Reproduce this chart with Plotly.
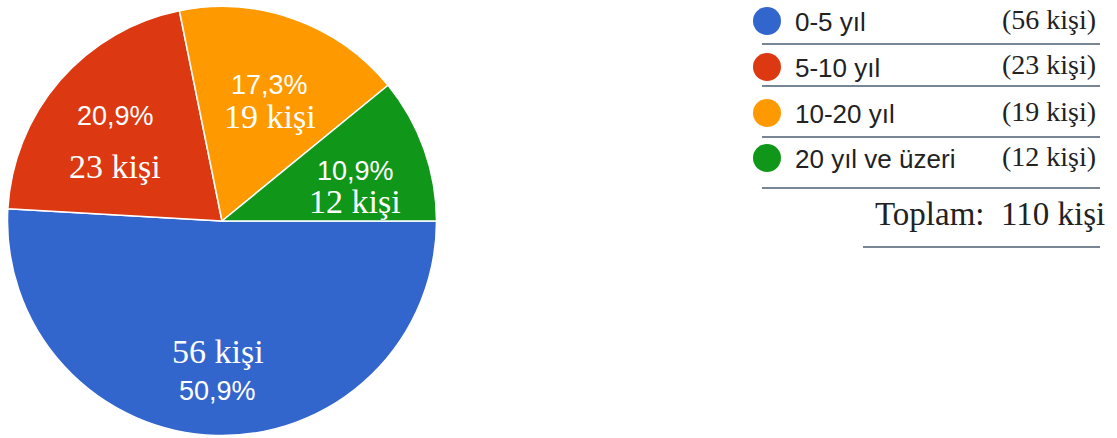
import math
import plotly.graph_objects as go

categories = ["0-5 yıl", "5-10 yıl", "10-20 yıl", "20 yıl ve üzeri"]
counts = [56, 23, 19, 12]
colors = ["#3366cc", "#dc3912", "#ff9900", "#109618"]
unit = "kişi"
total_label = "Toplam:"

W, H = 1117, 438
total = sum(counts)
pcts = [f"{c / total * 100:.1f}".replace(".", ",") + "%" for c in counts]

SERIF = "Liberation Serif, Times New Roman, serif"
SANS = "Liberation Sans, Arial, sans-serif"

# pie geometry (pixels)
CX, CY, R = 222, 221, 214.5
START_DEG = 0.0  # 3 o'clock, going clockwise
LABEL_BIAS_Y = 13  # labels in the upper half sit a little lower

fig = go.Figure()
fig.add_trace(go.Pie(
    labels=categories,
    values=counts,
    sort=False,
    direction="clockwise",
    rotation=90,
    marker=dict(colors=colors, line=dict(color="white", width=1.5)),
    textinfo="none",
    hoverinfo="label+value+percent",
    showlegend=False,
    domain=dict(x=[(CX - R) / W, (CX + R) / W], y=[1 - (CY + R) / H, 1 - (CY - R) / H]),
))


def px(x):
    return x / W


def py(y):
    return 1 - y / H


shapes = []
annotations = []

# slice labels placed at each slice's mid-angle
cum = 0
for i, c in enumerate(counts):
    mid = START_DEG + (cum + c / 2) / total * 360
    cum += c
    frac = 0.70 if c / total > 0.5 else 0.66
    lx = CX + frac * R * math.cos(math.radians(mid))
    ly = CY + frac * R * math.sin(math.radians(mid))
    if ly < CY:
        ly += LABEL_BIAS_Y
    kisi = dict(text=f"{c} {unit}", font=dict(family=SERIF, size=34, color="white"))
    pct = dict(text=pcts[i], font=dict(family=SANS, size=27, color="white"))
    lines = [kisi, pct] if i == 0 else [pct, kisi]
    gap = 40 if i == 0 else (50 if i == 1 else 31)
    for j, ln in enumerate(lines):
        yy = ly + (j - 0.5) * gap
        annotations.append(dict(xref="paper", yref="paper", x=px(lx), y=py(yy),
                                text=ln["text"], font=ln["font"], showarrow=False,
                                xanchor="center", yanchor="middle"))

# custom legend
row_y = [21, 67, 113, 158]
line_y = [44, 86, 137, 188]
for i, cat in enumerate(categories):
    cy = row_y[i]
    r = 14
    shapes.append(dict(type="circle", xref="paper", yref="paper",
                       x0=px(767 - r), x1=px(767 + r), y0=py(cy + r), y1=py(cy - r),
                       fillcolor=colors[i], line=dict(color=colors[i], width=0)))
    annotations.append(dict(xref="paper", yref="paper", x=px(793), y=py(cy + 1),
                            text=cat, showarrow=False, xanchor="left", yanchor="middle",
                            font=dict(family=SANS, size=26, color="#222222")))
    annotations.append(dict(xref="paper", yref="paper", x=px(1098), y=py(cy - 2),
                            text=f"({counts[i]} {unit})", showarrow=False,
                            xanchor="right", yanchor="middle",
                            font=dict(family=SERIF, size=28, color="#222222")))
    shapes.append(dict(type="line", xref="paper", yref="paper",
                       x0=px(762), x1=px(1100), y0=py(line_y[i]), y1=py(line_y[i]),
                       line=dict(color="#4a5d70", width=1.5)))

annotations.append(dict(xref="paper", yref="paper", x=px(1107), y=py(214),
                        text=f"{total_label}  {total} {unit}", showarrow=False,
                        xanchor="right", yanchor="middle",
                        font=dict(family=SERIF, size=33, color="#222222")))
shapes.append(dict(type="line", xref="paper", yref="paper",
                   x0=px(863), x1=px(1100), y0=py(247), y1=py(247),
                   line=dict(color="#4a5d70", width=1.5)))

fig.update_layout(
    width=W, height=H,
    margin=dict(l=0, r=0, t=0, b=0),
    paper_bgcolor="white", plot_bgcolor="white",
    shapes=shapes, annotations=annotations,
)

fig.write_html("out.html", config={"displayModeBar": False},
               post_script="document.body.style.margin='0';")
